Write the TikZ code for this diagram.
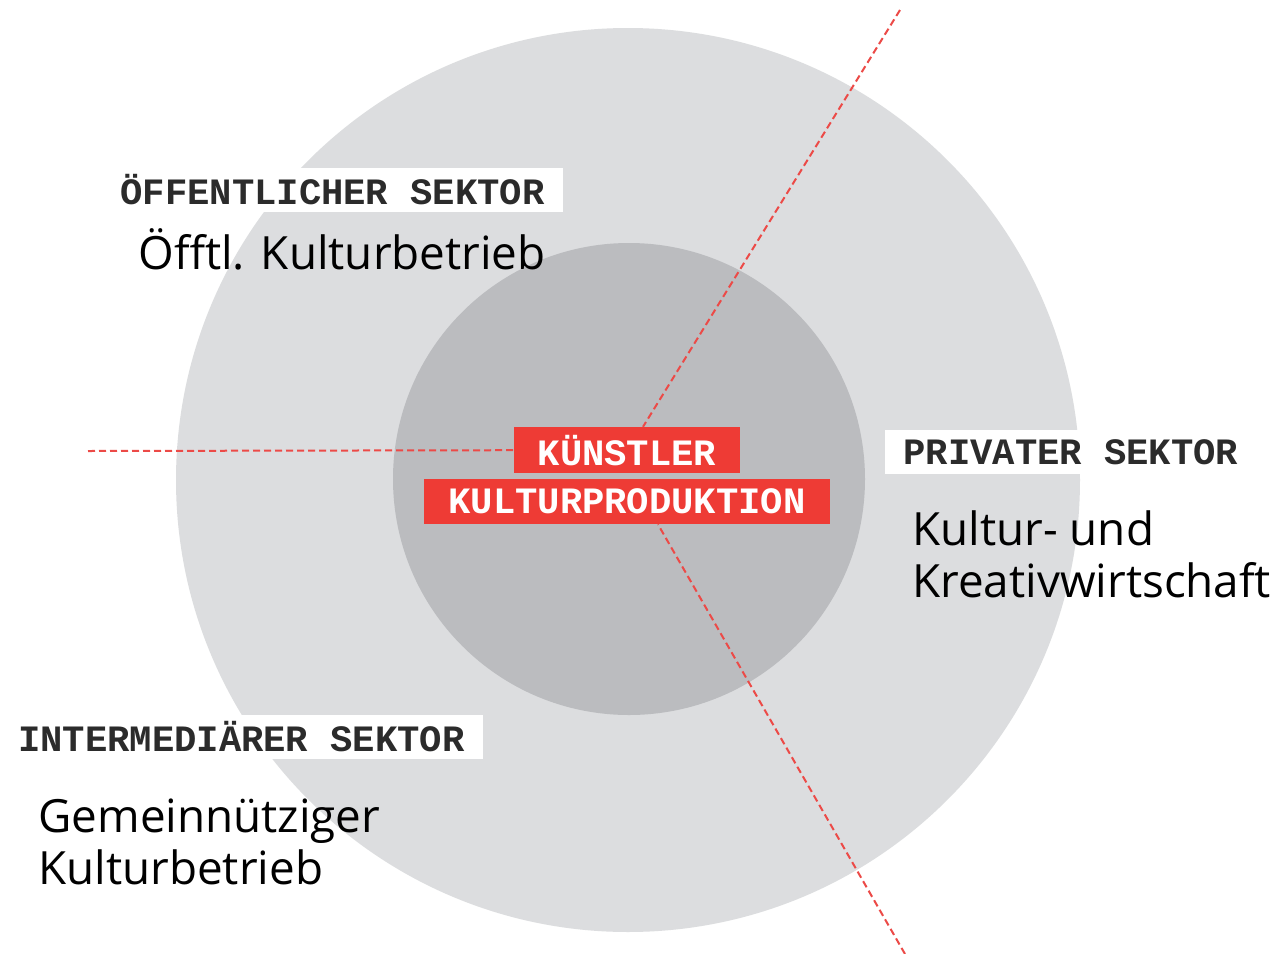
\documentclass[tikz,border=0pt]{standalone}
\usepackage{fontspec}
\setmainfont{Open Sans}
\newfontfamily\kpmono{Liberation Mono}
\usepackage{tikz}
\usetikzlibrary{positioning}
\definecolor{KPRed}{HTML}{EE3B35}
\definecolor{KPLine}{HTML}{EC4A47}
\definecolor{KPOuter}{HTML}{DCDDDF}
\definecolor{KPInner}{HTML}{BBBCBF}
\definecolor{KPTextDark}{HTML}{2B2B2B}

\tikzset{
  sektor/.style={fill=white, text=KPTextDark, minimum height=22pt, inner xsep=9pt, inner ysep=0pt,
    font={\kpmono\bfseries\fontsize{18.6}{20}\selectfont}},
  kern/.style={fill=KPRed, text=white, minimum height=22.5pt, inner xsep=12pt, inner ysep=0pt,
    font={\kpmono\bfseries\fontsize{18.6}{20}\selectfont}},
  feld/.style={align=left, inner sep=0pt, text=black, font={\fontsize{22.9}{26}\selectfont}},
  strahl/.style={draw=KPLine, line width=1pt, dash pattern=on 3.5pt off 2pt}
}

\begin{document}
\begin{tikzpicture}[x=0.5pt, y=-0.5pt]
  \useasboundingbox[fill=white] (0,0) rectangle (1276,954);

  % Sektoren und Kern
  \fill[KPOuter] (628,480) circle (452);
  \fill[KPInner] (629,479) circle (236);

  \node[kern] (kultur) at (627,501.5) {KULTURPRODUKTION};
  \node[kern, minimum height=23pt, above=2.5pt of kultur] (kuenstler) {KÜNSTLER};

  \node[sektor, anchor=east] (oeff) at (563,190) {ÖFFENTLICHER SEKTOR};
  \node[sektor, anchor=west] (privat) at (885,452) {PRIVATER SEKTOR};
  \node[sektor, anchor=east] (inter) at (483,736.5) {INTERMEDIÄRER SEKTOR};

  % base = Grundlinie der letzten Zeile
  \node[feld, anchor=base west] (oeffbetrieb) at (138,269) {Öfftl. Kulturbetrieb};
  \node[feld, anchor=base west] (kreativ) at (912,597) {Kultur- und\\Kreativwirtschaft};
  \node[feld, anchor=base west] (gemein) at (38,884) {Gemeinnütziger\\Kulturbetrieb};

  % Grenzen zwischen den Sektoren
  \coordinate (nordost) at (900,10);
  \coordinate (west) at (88,451);
  \coordinate (suedost) at (905,954);
  \draw[strahl] (nordost) -- ([xshift=8pt]kuenstler.north);
  \draw[strahl] (west) -- (kuenstler.west);
  \draw[strahl] (suedost) -- ([xshift=15.5pt]kultur.south);
\end{tikzpicture}
\end{document}
